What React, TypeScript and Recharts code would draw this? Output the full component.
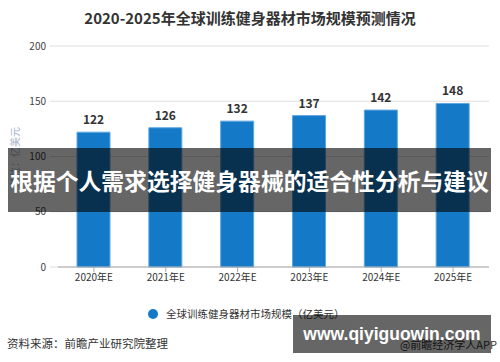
import React from 'react';
import { BarChart, Bar, XAxis, YAxis, CartesianGrid, LabelList } from 'recharts';

const years = ['2020年E', '2021年E', '2022年E', '2023年E', '2024年E', '2025年E'];
const marketSize = [122, 126, 132, 137, 142, 148];
const yTicks = [0, 50, 100, 150, 200];

const title = '2020-2025年全球训练健身器材市场规模预测情况';
const seriesName = '全球训练健身器材市场规模（亿美元）';
const yLabel = '单位：亿美元';
const sourceText = '资料来源：前瞻产业研究院整理';
const credit = '@前瞻经济学人APP';
const bannerText = '根据个人需求选择健身器械的适合性分析与建议';
const urlText = 'www.qiyiguowin.com';

const data = years.map((y, i) => ({ year: y, value: marketSize[i] }));

const font = '"Microsoft YaHei", "Noto Sans CJK SC", "Liberation Sans", Arial, sans-serif';

export default function App() {
  return (
    <div style={{ position: 'fixed', left: 0, top: 0, width: 500, height: 362, background: '#fff', overflow: 'hidden', fontFamily: font }}>
      <div style={{ position: 'absolute', left: 0, top: 8, width: 500, textAlign: 'center', fontSize: 15, fontWeight: 'bold', color: '#333', lineHeight: '20px' }}>
        {title}
      </div>
      <BarChart width={500} height={362} data={data} margin={{ top: 46, right: 11, bottom: 65, left: 0 }} style={{ position: 'absolute', left: 0, top: 0 }}>
        <CartesianGrid vertical={false} stroke="#dedede" />
        <XAxis
          dataKey="year"
          height={30}
          axisLine={{ stroke: '#aaa' }}
          tickLine={{ stroke: '#aaa' }}
          tickSize={5}
          tick={{ fontSize: 10, fill: '#333', fontFamily: font }}
          tickMargin={2}
          interval={0}
        />
        <YAxis
          width={58}
          domain={[0, 200]}
          ticks={yTicks}
          axisLine={false}
          tickLine={{ stroke: '#dedede' }}
          tickSize={8}
          tickMargin={4}
          tick={{ fontSize: 10, fill: '#444', fontFamily: font }}
        />
        <Bar dataKey="value" fill="#1479c6" stroke="#5fa6e0" strokeWidth={1} barSize={33} isAnimationActive={false}>
          <LabelList dataKey="value" position="top" offset={8} style={{ fontSize: 12, fontWeight: 'bold', fill: '#333', fontFamily: font }} />
        </Bar>
      </BarChart>
      <div style={{ position: 'absolute', left: 15, top: 157, width: 0, height: 0 }}>
        <div style={{ position: 'absolute', left: -40, top: -8, width: 80, height: 16, lineHeight: '16px', textAlign: 'center', fontSize: 10, color: '#a9b3c9', transform: 'rotate(-90deg)', whiteSpace: 'nowrap' }}>{yLabel}</div>
      </div>
      <div style={{ position: 'absolute', left: 148, top: 309, width: 10, height: 10, borderRadius: '50%', background: '#1479c6' }} />
      <div style={{ position: 'absolute', left: 166, top: 306, fontSize: 10.5, color: '#333', lineHeight: '16px', whiteSpace: 'nowrap' }}>{seriesName}</div>
      <div style={{ position: 'absolute', left: 7, top: 334, fontSize: 11.5, color: '#333', lineHeight: '18px', whiteSpace: 'nowrap' }}>{sourceText}</div>
      <div style={{ position: 'absolute', right: 3, top: 335, fontSize: 11, color: '#333', lineHeight: '18px', whiteSpace: 'nowrap' }}>{credit}</div>
      <div style={{ position: 'absolute', left: 8, top: 148, width: 483, height: 64, background: 'rgba(0,0,0,0.6)', display: 'flex', alignItems: 'center', justifyContent: 'center' }}>
        <span style={{ color: '#fff', fontSize: 22.8, fontWeight: 'bold', whiteSpace: 'nowrap', letterSpacing: 0 }}>{bannerText}</span>
      </div>
      <div style={{ position: 'absolute', left: 293, top: 315, width: 198, height: 38, background: 'rgba(0,0,0,0.6)', display: 'flex', alignItems: 'center', justifyContent: 'center' }}>
        <span style={{ color: '#fff', fontSize: 17.5, fontWeight: 'bold', whiteSpace: 'nowrap', fontFamily: '"Liberation Sans", Arial, sans-serif' }}>{urlText}</span>
      </div>
    </div>
  );
}
